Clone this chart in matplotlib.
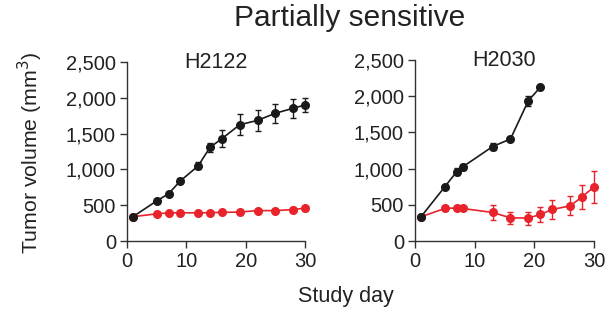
import matplotlib
matplotlib.use("Agg")
import matplotlib.pyplot as plt

plt.rcParams['font.family'] = ['Liberation Sans', 'DejaVu Sans']

# H2122
h2122_days_ctrl = [1, 5, 7, 9, 12, 14, 16, 19, 22, 25, 28, 30]
h2122_ctrl = [340, 560, 660, 840, 1050, 1310, 1430, 1625, 1685, 1785, 1855, 1900]
h2122_ctrl_err = [20, 25, 30, 35, 50, 65, 115, 150, 150, 135, 130, 100]
h2122_days_trt = [1, 5, 7, 9, 12, 14, 16, 19, 22, 25, 28, 30]
h2122_trt = [340, 380, 393, 395, 393, 397, 400, 405, 425, 425, 440, 460]
h2122_trt_err = [15, 15, 15, 15, 15, 15, 15, 20, 20, 20, 35, 35]

# H2030
h2030_days_ctrl = [1, 5, 7, 8, 13, 16, 19, 21]
h2030_ctrl = [335, 750, 960, 1025, 1305, 1410, 1940, 2125]
h2030_ctrl_err = [15, 30, 45, 45, 45, 30, 70, 20]
h2030_days_trt = [1, 5, 7, 8, 13, 16, 19, 21, 23, 26, 28, 30]
h2030_trt = [335, 450, 458, 450, 395, 320, 318, 367, 436, 486, 610, 748]
h2030_trt_err = [15, 20, 20, 20, 105, 85, 90, 110, 125, 130, 170, 220]

panels = [
    ("H2122", h2122_days_ctrl, h2122_ctrl, h2122_ctrl_err, h2122_days_trt, h2122_trt, h2122_trt_err),
    ("H2030", h2030_days_ctrl, h2030_ctrl, h2030_ctrl_err, h2030_days_trt, h2030_trt, h2030_trt_err),
]

yticks = [0, 500, 1000, 1500, 2000, 2500]
ytick_labels = ["0", "500", "1,000", "1,500", "2,000", "2,500"]
xticks = [0, 10, 20, 30]

RED = "#e8232b"
BLACK = "#1a1a1a"

fig = plt.figure(figsize=(6.15, 3.32), dpi=100)
rects = [[0.2065, 0.274, 0.2894, 0.539], [0.6748, 0.274, 0.2911, 0.545]]

for rect, (name, dc, vc, ec, dt, vt, et) in zip(rects, panels):
    ax = fig.add_axes(rect)
    ax.errorbar(dt, vt, yerr=et, color=RED, marker='o', markersize=5.5,
                lw=1.2, elinewidth=1.0, capsize=2.5, capthick=1.0, clip_on=False, zorder=3)
    ax.errorbar(dc, vc, yerr=ec, color=BLACK, marker='o', markersize=5.5,
                lw=1.2, elinewidth=1.0, capsize=2.5, capthick=1.0, clip_on=False, zorder=4)
    ax.set_xlim(0, 30)
    ax.set_ylim(0, 2500)
    ax.set_xticks(xticks)
    ax.set_yticks(yticks)
    ax.set_yticklabels(ytick_labels)
    for s in ['top', 'right']:
        ax.spines[s].set_visible(False)
    for s in ['left', 'bottom']:
        ax.spines[s].set_color('#333333')
        ax.spines[s].set_linewidth(1.0)
    ax.tick_params(direction='out', length=5, width=1.0, color='#333333',
                   labelsize=14.5, pad=3, labelcolor='#222222')
    ax.text(0.5, 1.0, name, transform=ax.transAxes, ha='center', va='center',
            fontsize=15.5, color='#222222')

fig.text(0.568, 0.947, "Partially sensitive", ha='center', va='center', fontsize=21.5, color='#222222')
fig.text(0.563, 0.108, "Study day", ha='center', va='center', fontsize=15.5, color='#222222')
fig.text(0.049, 0.54, "Tumor volume (mm$^3$)", ha='center', va='center', rotation=90,
         fontsize=15.3, color='#222222')

fig.savefig("out.png", dpi=100)
